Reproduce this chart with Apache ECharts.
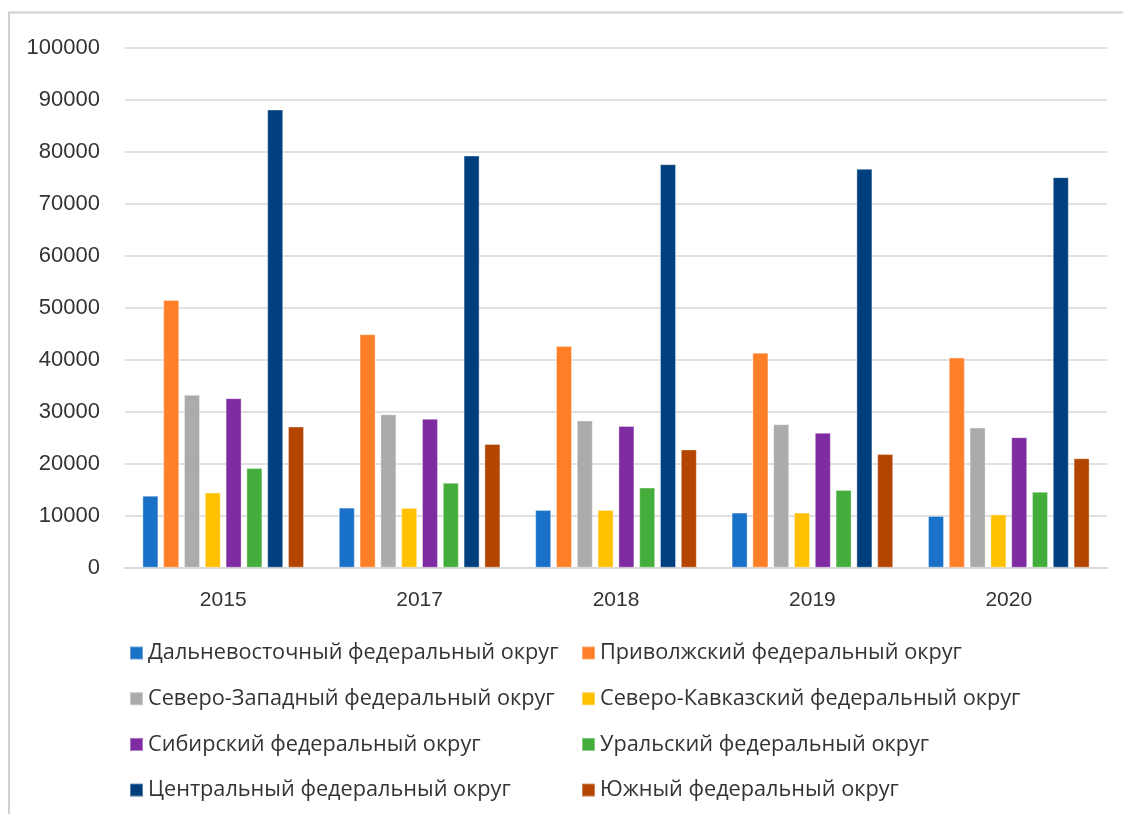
<!DOCTYPE html>
<html>
<head>
<meta charset="utf-8">
<script src="https://cdn.jsdelivr.net/npm/echarts@6/dist/echarts.min.js"></script>
<style>
html,body{margin:0;padding:0;background:#fff;}
#chart{width:1123px;height:814px;}
</style>
</head>
<body>
<div id="chart"></div>
<script>
const years = ['2015', '2017', '2018', '2019', '2020'];
const seriesNames = [
  'Дальневосточный федеральный округ',
  'Приволжский федеральный округ',
  'Северо-Западный федеральный округ',
  'Северо-Кавказский федеральный округ',
  'Сибирский федеральный округ',
  'Уральский федеральный округ',
  'Центральный федеральный округ',
  'Южный федеральный округ'
];
const farEast      = [13850, 11550, 11100, 10600, 9950];
const volga        = [51500, 44900, 42650, 41350, 40400];
const northWest    = [33250, 29500, 28300, 27600, 26950];
const northCaucas  = [14450, 11500, 11100, 10600, 10250];
const siberia      = [32600, 28650, 27250, 25950, 25100];
const ural         = [19150, 16350, 15400, 14950, 14600];
const central      = [88100, 79250, 77600, 76700, 75100];
const south        = [27150, 23800, 22750, 21850, 21050];
const yTicks = [0, 10000, 20000, 30000, 40000, 50000, 60000, 70000, 80000, 90000, 100000];

const values = [farEast, volga, northWest, northCaucas, siberia, ural, central, south];
const colors = ['#1A72C8', '#FF7F27', '#ABABAB', '#FFC000', '#7F2CA3', '#45AD3B', '#003F7D', '#B34500'];

const FONT = 'Liberation Sans';
const LFONT = 'Open Sans';
const legendText = {fontFamily: LFONT, fontSize: 21.7, lineHeight: 22, color: '#333333'};
const chart = echarts.init(document.getElementById('chart'), null, {renderer: 'canvas'});
chart.setOption({
  animation: false,
  backgroundColor: '#ffffff',
  color: colors,
  graphic: [{
    type: 'polyline',
    shape: {points: [[9, 814], [9, 12.5], [1123, 12.5]]},
    style: {stroke: '#d0d0d0', lineWidth: 2, fill: null}
  }],
  grid: {left: 125, right: 16, top: 47.7, bottom: 246.3, containLabel: false},
  legend: [
    {
      data: [seriesNames[0], seriesNames[2], seriesNames[4], seriesNames[6]],
      orient: 'vertical', left: 129, top: 642, padding: 0,
      icon: 'rect', itemWidth: 13, itemHeight: 13, itemGap: 23.7,
      textStyle: legendText
    },
    {
      data: [seriesNames[1], seriesNames[3], seriesNames[5], seriesNames[7]],
      orient: 'vertical', left: 581, top: 642, padding: 0,
      icon: 'rect', itemWidth: 13, itemHeight: 13, itemGap: 23.7,
      textStyle: legendText
    }
  ],
  xAxis: {
    type: 'category',
    data: years,
    axisLine: {show: true, lineStyle: {color: '#d9d9d9', width: 2}},
    axisTick: {show: false},
    axisLabel: {fontFamily: FONT, fontSize: 21, color: '#333333', margin: 22}
  },
  yAxis: {
    type: 'value',
    min: 0, max: 100000, interval: 10000,
    axisLine: {show: false},
    axisTick: {show: false},
    splitLine: {lineStyle: {color: '#e0e0e0', width: 2}},
    axisLabel: {
      fontFamily: FONT, fontSize: 22, color: '#333333', margin: 25,
      formatter: v => yTicks.includes(v) ? String(v) : ''
    }
  },
  series: seriesNames.map((name, i) => ({
    name: name,
    type: 'bar',
    data: values[i],
    barWidth: 16,
    barGap: '30%',
    itemStyle: {color: colors[i], borderColor: 'rgba(255,255,255,0.35)', borderWidth: 1}
  }))
});
</script>
</body>
</html>
